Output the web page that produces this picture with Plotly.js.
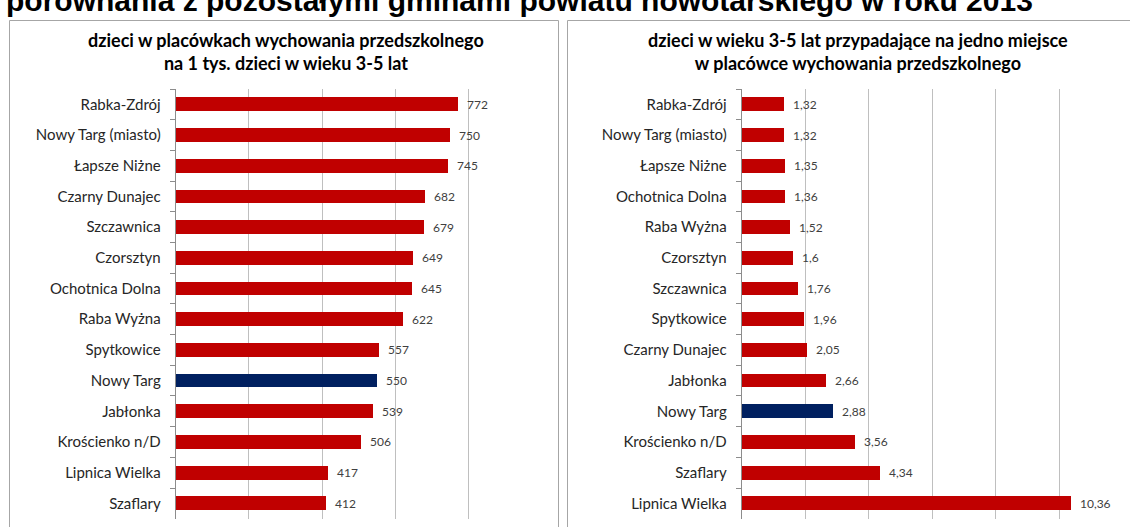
<!DOCTYPE html>
<html>
<head>
<meta charset="utf-8">
<script src="https://cdn.plot.ly/plotly-3.0.1.min.js"></script>
<style>html,body{margin:0;padding:0;background:#fff;}#chart{width:1130px;height:527px;}</style>
</head>
<body>
<div id="chart"></div>
<script>
// ---- data ----
const leftCategories = ["Rabka-Zdrój","Nowy Targ (miasto)","Łapsze Niżne","Czarny Dunajec","Szczawnica","Czorsztyn","Ochotnica Dolna","Raba Wyżna","Spytkowice","Nowy Targ","Jabłonka","Krościenko n/D","Lipnica Wielka","Szaflary"];
const leftValues = [772,750,745,682,679,649,645,622,557,550,539,506,417,412];

const rightCategories = ["Rabka-Zdrój","Nowy Targ (miasto)","Łapsze Niżne","Ochotnica Dolna","Raba Wyżna","Czorsztyn","Szczawnica","Spytkowice","Czarny Dunajec","Jabłonka","Nowy Targ","Krościenko n/D","Szaflary","Lipnica Wielka"];
const rightValues = [1.32,1.32,1.35,1.36,1.52,1.6,1.76,1.96,2.05,2.66,2.88,3.56,4.34,10.36];

const highlight = "Nowy Targ";
const pageTitle = "porównania z pozostałymi gminami powiatu nowotarskiego w roku 2013";
const leftTitle = "dzieci w placówkach wychowania przedszkolnego<br>na 1 tys. dzieci w wieku 3-5 lat";
const rightTitle = "dzieci w wieku 3-5 lat przypadające na jedno miejsce<br>w placówce wychowania przedszkolnego";

// ---- styling ----
const W = 1130, H = 527;
const RED = "#c00000", NAVY = "#002060";
const FONT = "Lato, 'Open Sans', 'Liberation Sans', sans-serif";
const px = v => v / W;
const py = v => 1 - v / H;
const fmt = v => String(v).replace(".", ",");
const colors = cats => cats.map(c => c === highlight ? NAVY : RED);

const yDomain = [py(518.7), py(89)];

const traces = [
  {type:"bar", orientation:"h", y:leftCategories, x:leftValues, xaxis:"x", yaxis:"y",
   marker:{color:colors(leftCategories)}, width:0.45, hoverinfo:"skip"},
  {type:"bar", orientation:"h", y:rightCategories, x:rightValues, xaxis:"x2", yaxis:"y2",
   marker:{color:colors(rightCategories)}, width:0.45, hoverinfo:"skip"}
];

const valueLabels = (cats, vals, xr, yr) => cats.map((c, i) => ({
  x: vals[i], y: c, xref: xr, yref: yr, text: fmt(vals[i]), showarrow: false,
  xanchor: "left", yanchor: "middle", xshift: 7,
  font: {family: FONT, size: 12, color: "#404040"}
}));

const yAxisCommon = {
  type:"category", autorange:"reversed", domain:yDomain,
  showline:true, linecolor:"#8c8c8c", linewidth:1,
  ticks:"outside", tickson:"boundaries", ticklen:5, tickcolor:"#8c8c8c",
  showgrid:false, ticklabelstandoff:11,
  tickfont:{family:FONT, size:15, color:"#262626"}
};
const xAxisCommon = {
  showgrid:true, gridcolor:"#bfbfbf", gridwidth:1, zeroline:false,
  showticklabels:false, ticks:"", showline:false, fixedrange:true
};

const layout = {
  width:W, height:H, margin:{l:0,r:0,t:0,b:0},
  paper_bgcolor:"#fff", plot_bgcolor:"rgba(0,0,0,0)",
  showlegend:false, bargap:0,
  xaxis: Object.assign({}, xAxisCommon, {domain:[px(175.7), px(541.5)], range:[0,1000], dtick:200, anchor:"y"}),
  yaxis: Object.assign({}, yAxisCommon, {anchor:"x"}),
  xaxis2: Object.assign({}, xAxisCommon, {domain:[px(741.7), px(1123)], range:[0,12], dtick:2, anchor:"y2"}),
  yaxis2: Object.assign({}, yAxisCommon, {anchor:"x2"}),
  shapes: [
    {type:"rect", xref:"paper", yref:"paper", x0:px(9.5), x1:px(558.5), y0:py(535), y1:py(20.5),
     line:{color:"#a6a6a6", width:1}, fillcolor:"rgba(0,0,0,0)", layer:"below"},
    {type:"rect", xref:"paper", yref:"paper", x0:px(567.5), x1:px(1140), y0:py(535), y1:py(20.5),
     line:{color:"#a6a6a6", width:1}, fillcolor:"rgba(0,0,0,0)", layer:"below"}
  ],
  annotations: [
    {text:"<b>" + pageTitle + "</b>", xref:"paper", yref:"paper", x:px(4), y:py(19), xanchor:"left", yanchor:"bottom",
     showarrow:false, font:{family:"'Liberation Sans', Arial, sans-serif", size:30, color:"#000"}},
    {text:"<b>"+leftTitle+"</b>", xref:"paper", yref:"paper", x:px(285.5), y:py(51), xanchor:"center", yanchor:"middle",
     showarrow:false, font:{family:FONT, size:18, color:"#000"}},
    {text:"<b>"+rightTitle+"</b>", xref:"paper", yref:"paper", x:px(857.5), y:py(51), xanchor:"center", yanchor:"middle",
     showarrow:false, font:{family:FONT, size:18, color:"#000"}}
  ].concat(valueLabels(leftCategories, leftValues, "x", "y"))
   .concat(valueLabels(rightCategories, rightValues, "x2", "y2"))
};

Plotly.newPlot("chart", traces, layout, {staticPlot:true, displayModeBar:false});
</script>
</body>
</html>
